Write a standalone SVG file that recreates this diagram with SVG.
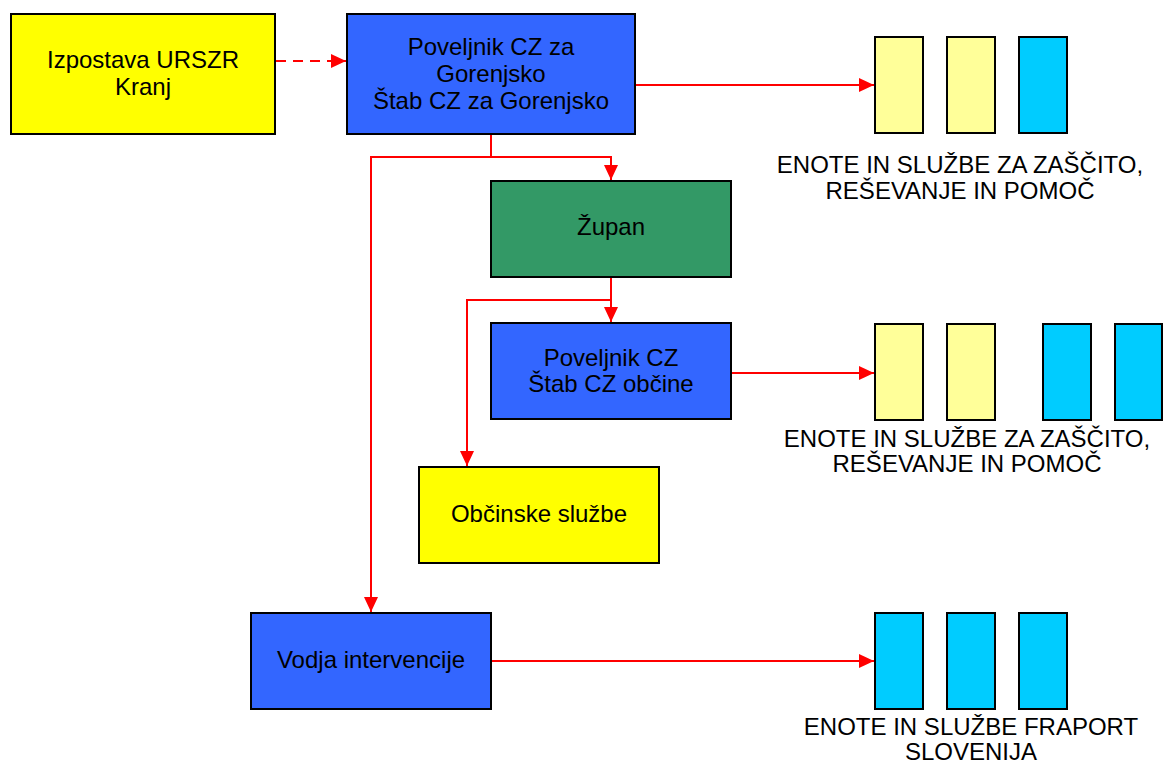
<svg xmlns="http://www.w3.org/2000/svg" width="1163" height="762" viewBox="0 0 1163 762">
<style>
.box{stroke:#000;stroke-width:2}
.yel{fill:#FFFF00}.blu{fill:#3366FF}.grn{fill:#339966}.pale{fill:#FFFF99}.cyan{fill:#00CCFF}
text{font-family:"Liberation Sans",Arial,sans-serif;font-size:24px;fill:#000;text-anchor:middle}
.con{fill:none;stroke:#FF0000;stroke-width:2}
.dash{stroke-dasharray:10 7}
</style>
<defs>
<marker id="arr" markerUnits="userSpaceOnUse" markerWidth="16" markerHeight="14" refX="15" refY="7" orient="auto">
<path d="M0,0 L15,7 L0,14 Z" fill="#FF0000"/>
</marker>
</defs>
<g id="connectors">
<path class="con dash" d="M276,61 H346" marker-end="url(#arr)"/>
<path class="con" d="M636,85 H874" marker-end="url(#arr)"/>
<path class="con" d="M491,134 V157 H611 V180" marker-end="url(#arr)"/>
<path class="con" d="M491,157 H371 V612" marker-end="url(#arr)"/>
<path class="con" d="M611,277 V322" marker-end="url(#arr)"/>
<path class="con" d="M611,300 H467 V466" marker-end="url(#arr)"/>
<path class="con" d="M732,373 H874" marker-end="url(#arr)"/>
<path class="con" d="M492,661 H874" marker-end="url(#arr)"/>
</g>
<g id="izpostava"><rect class="box yel" x="11" y="14" width="264" height="120"/><text x="143" y="68">Izpostava URSZR</text><text x="143" y="95">Kranj</text></g>
<g id="poveljnik-gorenjsko"><rect class="box blu" x="347" y="14" width="288" height="120"/><text x="491" y="55">Poveljnik CZ za</text><text x="491" y="82">Gorenjsko</text><text x="491" y="109">Štab CZ za Gorenjsko</text></g>
<g id="zupan"><rect class="box grn" x="491" y="181" width="240" height="96"/><text x="611" y="235">Župan</text></g>
<g id="poveljnik-obcine"><rect class="box blu" x="491" y="323" width="240" height="96"/><text x="611" y="366">Poveljnik CZ</text><text x="611" y="392">Štab CZ občine</text></g>
<g id="obcinske-sluzbe"><rect class="box yel" x="419" y="467" width="240" height="96"/><text x="539" y="522">Občinske službe</text></g>
<g id="vodja"><rect class="box blu" x="251" y="613" width="240" height="96"/><text x="371" y="668">Vodja intervencije</text></g>
<g id="enote-gorenjska">
<rect class="box pale" x="875" y="37" width="48" height="96"/>
<rect class="box pale" x="947" y="37" width="48" height="96"/>
<rect class="box cyan" x="1019" y="37" width="48" height="96"/>
<text x="960" y="173">ENOTE IN SLUŽBE ZA ZAŠČITO,</text><text x="960" y="199">REŠEVANJE IN POMOČ</text>
</g>
<g id="enote-obcina">
<rect class="box pale" x="875" y="324" width="48" height="96"/>
<rect class="box pale" x="947" y="324" width="48" height="96"/>
<rect class="box cyan" x="1043" y="324" width="48" height="96"/>
<rect class="box cyan" x="1115" y="324" width="47" height="96"/>
<text x="967" y="447">ENOTE IN SLUŽBE ZA ZAŠČITO,</text><text x="967" y="472">REŠEVANJE IN POMOČ</text>
</g>
<g id="enote-fraport">
<rect class="box cyan" x="875" y="613" width="48" height="96"/>
<rect class="box cyan" x="947" y="613" width="48" height="96"/>
<rect class="box cyan" x="1019" y="613" width="48" height="96"/>
<text x="971" y="735">ENOTE IN SLUŽBE FRAPORT</text><text x="971" y="760">SLOVENIJA</text>
</g>
</svg>
